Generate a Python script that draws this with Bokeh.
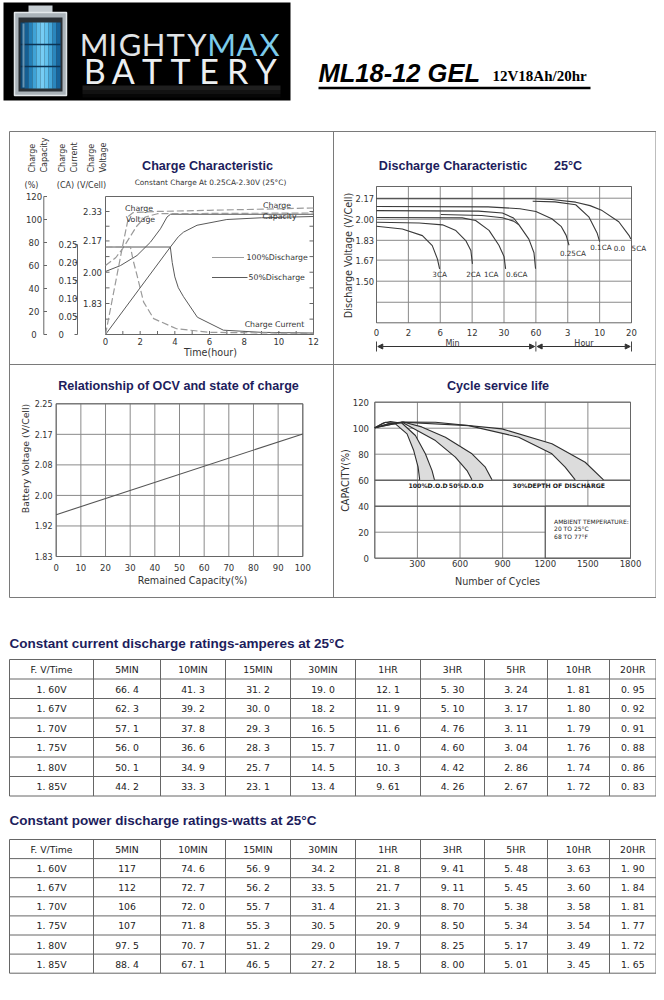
import numpy as np
from bokeh.plotting import figure
from bokeh.models import Range1d, Arrow, NormalHead
from bokeh.core.properties import value
from bokeh.embed import file_html
from bokeh.resources import INLINE

# ======================= DATA =======================
# ---- Charge characteristic (x = hours) ----
charge_hour_ticks = [0, 2, 4, 6, 8, 10, 12]
charge_capacity_ticks = [0, 20, 40, 60, 80, 100, 120]
charge_current_ticks = [0, 0.05, 0.10, 0.15, 0.20, 0.25]
charge_current_labels = ["0", "0.05", "0.10", "0.15", "0.20", "0.25"]
charge_voltage_ticks = [1.83, 2.00, 2.17, 2.33]
charge_voltage_labels = ["1.83", "2.00", "2.17", "2.33"]
charge_voltage_minor = [1.745, 1.83, 1.915, 2.00, 2.085, 2.17, 2.25, 2.33]

volt_solid_h = [0, 0.86, 1.82, 2.59, 3.17, 3.55, 3.75, 12]
volt_solid_v = [2.004, 2.036, 2.091, 2.163, 2.236, 2.300, 2.315, 2.315]
volt_dash_h = [0, 0.6, 1.0, 1.4, 1.8, 2.3, 3.0, 12]
volt_dash_v = [2.036, 2.08, 2.13, 2.19, 2.25, 2.30, 2.318, 2.322]
curr_solid_h = [0, 3.74, 3.85, 4.0, 4.2, 4.5, 5.3, 6.8, 9, 12]
curr_solid_a = [0.243, 0.243, 0.20, 0.16, 0.13, 0.105, 0.048, 0.012, 0.006, 0.004]
curr_dash_h = [0, 1.44, 1.6, 1.82, 2.2, 2.78, 4.1, 6, 12]
curr_dash_a = [0.243, 0.243, 0.205, 0.164, 0.09, 0.044, 0.016, 0.006, 0.003]
cap_solid_h = [0, 3.74, 4.2, 4.5, 5.28, 7, 9, 12]
cap_solid_p = [0, 76, 85, 89, 95, 100, 101.5, 102.6]
cap_dash_h = [0, 0.5, 1.0, 1.34, 1.6, 3, 6, 12]
cap_dash_p = [0, 39, 78, 103, 106, 107, 108, 110]

# ---- Discharge characteristic (x = position of time tick) ----
discharge_time_labels = ["0", "2", "6", "12", "30", "60", "3", "10", "20"]
discharge_volt_ticks = [2.17, 2.00, 1.83, 1.67, 1.50]
discharge_volt_labels = ["2.17", "2.00", "1.83", "1.67", "1.50"]
discharge_volt_grid = [2.17, 2.00, 1.83, 1.67, 1.50, 1.33]
dis_3ca_t = [0, 0.81, 1.44, 1.75, 1.91, 1.98]
dis_3ca_v = [1.944, 1.922, 1.868, 1.787, 1.68, 1.60]
dis_2ca_t = [0, 1.34, 2.07, 2.49, 2.80, 2.96, 3.01]
dis_2ca_v = [1.976, 1.97, 1.955, 1.909, 1.828, 1.748, 1.64]
dis_1ca_t = [0, 2.69, 3.11, 3.53, 3.84, 4.0, 4.05]
dis_1ca_v = [2.014, 2.011, 1.99, 1.91, 1.79, 1.70, 1.60]
dis_06a_t = [2.02, 3.3, 3.95, 4.3, 4.47]
dis_06a_v = [2.038, 2.03, 2.012, 1.985, 1.955]
dis_06ca_t = [0, 3.2, 3.95, 4.3, 4.47, 4.78, 4.94, 4.99]
dis_06ca_v = [2.07, 2.066, 2.05, 2.01, 1.955, 1.84, 1.73, 1.60]
dis_025ca_t = [0, 3.5, 4.5, 5.0, 5.5, 5.8, 5.95, 6.04]
dis_025ca_v = [2.103, 2.10, 2.085, 2.063, 2.004, 1.94, 1.87, 1.79]
dis_01ca_t = [4.9, 5.6, 6.25, 6.66, 6.92, 7.0]
dis_01ca_v = [2.145, 2.14, 2.117, 2.02, 1.89, 1.82]
dis_005ca_t = [0, 4.9, 5.5, 6.25, 6.7, 7.08, 7.6, 7.92, 7.98]
dis_005ca_v = [2.165, 2.165, 2.16, 2.138, 2.11, 2.07, 1.98, 1.87, 1.84]
discharge_curve_names = ["3CA", "2CA", "1CA", "0.6CA", "0.25CA", "0.1CA", "0.0", "5CA"]

# ---- OCV vs state of charge ----
ocv_capacity_ticks = [0, 10, 20, 30, 40, 50, 60, 70, 80, 90, 100]
ocv_volt_ticks = [1.83, 1.914, 1.998, 2.082, 2.166, 2.25]
ocv_volt_labels = ["1.83", "1.92", "2.00", "2.08", "2.17", "2.25"]
ocv_capacity = [0, 100]
ocv_voltage = [1.945, 2.167]

# ---- Cycle service life ----
cycle_ticks = [0, 300, 600, 900, 1200, 1500, 1800]
cycle_capacity_ticks = [0, 20, 40, 60, 80, 100, 120]
dod100_outer_n = [0, 60, 110, 192, 286, 356, 403, 420]
dod100_outer_c = [100.3, 104, 105.2, 103.8, 94.4, 80.3, 67.4, 60.3]
dod100_inner_n = [0, 75, 145, 227, 274, 305, 316]
dod100_inner_c = [100.3, 104.6, 103.3, 95.6, 82.8, 70, 60.3]
dod50_outer_n = [0, 120, 200, 330, 497, 684, 778, 825]
dod50_outer_c = [100.3, 104, 104.8, 101, 93.1, 80.3, 70, 60.3]
dod50_inner_n = [0, 100, 192, 427, 567, 649, 684]
dod50_inner_c = [100.3, 103.5, 104.6, 90.5, 77.7, 67.4, 60.3]
dod30_outer_n = [0, 200, 427, 895, 1247, 1481, 1610]
dod30_outer_c = [100.3, 104.8, 104.6, 99.5, 88, 73.8, 60.3]
dod30_inner_n = [0, 192, 661, 1013, 1247, 1340, 1411]
dod30_inner_c = [100.3, 104.6, 102, 93.1, 80.3, 70, 60.3]
dod_labels = ["100%D.O.D", "50%D.O.D", "30%DEPTH OF DISCHARGE"]
ambient_lines = ["AMBIENT TEMPERATURE:", "20 TO 25°C", "68 TO 77°F"]

# ---- Tables ----
table_header = ["F. V/Time", "5MIN", "10MIN", "15MIN", "30MIN", "1HR", "3HR", "5HR", "10HR", "20HR"]
final_voltages = ["1. 60V", "1. 67V", "1. 70V", "1. 75V", "1. 80V", "1. 85V"]
amps_160 = ["66. 4", "41. 3", "31. 2", "19. 0", "12. 1", "5. 30", "3. 24", "1. 81", "0. 95"]
amps_167 = ["62. 3", "39. 2", "30. 0", "18. 2", "11. 9", "5. 10", "3. 17", "1. 80", "0. 92"]
amps_170 = ["57. 1", "37. 8", "29. 3", "16. 5", "11. 6", "4. 76", "3. 11", "1. 79", "0. 91"]
amps_175 = ["56. 0", "36. 6", "28. 3", "15. 7", "11. 0", "4. 60", "3. 04", "1. 76", "0. 88"]
amps_180 = ["50. 1", "34. 9", "25. 7", "14. 5", "10. 3", "4. 42", "2. 86", "1. 74", "0. 86"]
amps_185 = ["44. 2", "33. 3", "23. 1", "13. 4", "9. 61", "4. 26", "2. 67", "1. 72", "0. 83"]
watts_160 = ["117", "74. 6", "56. 9", "34. 2", "21. 8", "9. 41", "5. 48", "3. 63", "1. 90"]
watts_167 = ["112", "72. 7", "56. 2", "33. 5", "21. 7", "9. 11", "5. 45", "3. 60", "1. 84"]
watts_170 = ["106", "72. 0", "55. 7", "31. 4", "21. 3", "8. 70", "5. 38", "3. 58", "1. 81"]
watts_175 = ["107", "71. 8", "55. 3", "30. 5", "20. 9", "8. 50", "5. 34", "3. 54", "1. 77"]
watts_180 = ["97. 5", "70. 7", "51. 2", "29. 0", "19. 7", "8. 25", "5. 17", "3. 49", "1. 72"]
watts_185 = ["88. 4", "67. 1", "46. 5", "27. 2", "18. 5", "8. 00", "5. 01", "3. 45", "1. 65"]

# ======================= LAYOUT / STYLE =======================
X0, X1, Y0, Y1 = 0, 656, 0, 984
NAVY = "#1d1d5c"
TXT = "#333333"
GRID = "#8a8a8a"
SANS = value("DejaVu Sans")
ARIAL = value("Liberation Sans")

p = figure(width=X1 - X0, height=Y1 - Y0, x_range=Range1d(X0, X1), y_range=Range1d(Y1, Y0),
           output_backend="svg", toolbar_location=None, min_border=0,
           x_axis_type=None, y_axis_type=None)
p.outline_line_color = None
p.background_fill_color = "white"
p.border_fill_color = "white"

xr, yr = {}, {}
def set_x(name, v1, p1, v2, p2):
    s = (v2 - v1) / (p2 - p1)
    xr[name] = Range1d(v1 + (X0 - p1) * s, v1 + (X1 - p1) * s)
def set_y(name, v1, p1, v2, p2):
    s = (v2 - v1) / (p2 - p1)
    yr[name] = Range1d(v1 + (Y1 - p1) * s, v1 + (Y0 - p1) * s)

set_x("ch_x", 0, 105, 12, 313)
set_y("ch_cap", 0, 334, 120, 196)
set_y("ch_v", 1.83, 303, 2.33, 211)
set_y("ch_i", 0, 334, 0.25, 244)
set_x("dc_x", 0, 376, 8, 631)
set_y("dc_v", 1.50, 280.7, 2.17, 197.7)
set_x("ocv_x", 0, 55.7, 100, 302.3)
set_y("ocv_y", 1.83, 556, 2.25, 403.3)
set_x("cy_x", 0, 374.3, 1800, 630)
set_y("cy_y", 0, 557.7, 120, 401.7)
p.extra_x_ranges = xr
p.extra_y_ranges = yr

def T(x, y, s, size=8, color=TXT, font=SANS, style="normal", align="center",
      baseline="middle", angle=0.0, xn="default", yn="default"):
    xs = list(x) if isinstance(x, (list, tuple)) else [x]
    ys = list(y) if isinstance(y, (list, tuple)) else [y]
    ss = list(s) if isinstance(s, (list, tuple)) else [s]
    n = max(len(xs), len(ys), len(ss))
    xs = xs * n if len(xs) == 1 else xs
    ys = ys * n if len(ys) == 1 else ys
    ss = ss * n if len(ss) == 1 else ss
    p.text(x=xs, y=ys, text=ss, text_font=font, text_font_size=f"{size}px",
           text_font_style=style, text_color=color, text_align=align,
           text_baseline=baseline, angle=angle, x_range_name=xn, y_range_name=yn)

def L(x, y, color="#555", width=1.0, dash="solid", xn="default", yn="default"):
    p.line(x=x, y=y, line_color=color, line_width=width, line_dash=dash,
           x_range_name=xn, y_range_name=yn)

def S(x0, y0, x1, y1, color=GRID, width=1.0, xn="default", yn="default"):
    n = max(len(v) if isinstance(v, (list, tuple)) else 1 for v in (x0, y0, x1, y1))
    f = lambda v: list(v) if isinstance(v, (list, tuple)) else [v] * n
    p.segment(x0=f(x0), y0=f(y0), x1=f(x1), y1=f(y1), line_color=color,
              line_width=width, x_range_name=xn, y_range_name=yn)

def box(l, r, t, b, color="#555", width=1.0, fill=None):
    p.quad(left=[l], right=[r], top=[t], bottom=[b], fill_color=fill,
           line_color=color, line_width=width)

# ======================= HEADER =======================
p.quad(left=[3], right=[290], top=[2], bottom=[100], fill_color="black", line_color=None)
p.quad(left=[28], right=[52], top=[5], bottom=[13], fill_color="#c5ccd1", line_color=None)
p.quad(left=[14], right=[66], top=[12], bottom=[95], fill_color="#aab3b9", line_color="#e3e8eb", line_width=1.5)
p.quad(left=[18], right=[62], top=[17], bottom=[91], fill_color="#2b3136", line_color=None)
stripe_colors = ["#0c4773", "#155f93", "#2580b8", "#3fa2d6", "#5dbdea", "#77cdf4",
                 "#62c2ee", "#45a7da", "#2a86bd", "#16639a"]
sx = [20 + 4 * i for i in range(10)]
p.quad(left=sx, right=[v + 4 for v in sx], top=[22] * 10, bottom=[88] * 10,
       fill_color=stripe_colors, line_color=None)
S([20, 20], [44, 66], [60, 60], [44, 66], color="#0b3353", width=1.5)
p.quad(left=[22], right=[24], top=[23], bottom=[87], fill_color="#bfe6f8", line_color=None, fill_alpha=0.5)

mm_letters = list("MIGHTYMAX")
mm_w = [1.25, 0.45, 1.1, 1.05, 0.95, 1.0, 1.25, 1.05, 1.0]
unit = 200 / sum(mm_w)
cx, acc = [], 80.0
for w in mm_w:
    cx.append(acc + w * unit / 2); acc += w * unit
mm_colors = ["#e1e4e6"] * 6 + ["#7ccbea"] * 3
p.text(x=cx, y=[43] * 9, text=mm_letters, text_font=value("Lato"), text_font_size="31px",
       text_color=mm_colors, text_align="center", text_baseline="middle")
bt_letters = list("BATTERY")
bx = [80 + 200 / 7 * (i + 0.5) for i in range(7)]
p.text(x=bx, y=[70] * 7, text=bt_letters, text_font=value("Lato"), text_font_size="34px",
       text_color="#eceff1", text_align="center", text_baseline="middle")
p.quad(left=[82, 82, 82], right=[280, 280, 280], top=[85, 89.5, 93.5], bottom=[89.5, 93.5, 97],
       fill_color="#5a5a5a", fill_alpha=[0.35, 0.2, 0.08], line_color=None)

T(318, 72, "ML18-12 GEL", size=25.5, color="black", font=ARIAL, style="bold italic",
  align="left", baseline="middle")
T(492, 75, "12V18Ah/20hr", size=15, color="black", font=value("Liberation Serif"),
  style="bold", align="left", baseline="middle")
S(318, 87.5, 590, 87.5, color="black", width=2.5)

# ======================= CHART FRAME =======================
box(9, 655.5, 131, 597, color="#7a7a7a")
S(333, 131, 333, 597, color="#7a7a7a")
S(9, 364, 655.5, 364, color="#7a7a7a")

# ======================= CHARGE CHARACTERISTIC =======================
T(207, 165, "Charge Characteristic", size=12.6, color=NAVY, font=ARIAL, style="bold")
T(210, 182, "Constant Charge At 0.25CA-2.30V (25°C)", size=7.4)
for xx, s in [(32, "Charge"), (43.5, "Capacity"), (62, "Charge"), (73.5, "Current"),
              (90.5, "Charge"), (103, "Voltage")]:
    T(xx, 172, s, size=8, align="left", angle=np.pi / 2)
T([31, 65, 91], 185, ["(%)", "(CA)", "(V/Cell)"], size=8)

box(105, 313, 196, 334, color="#666")
S(43.3, 0, 43.3, 120, color="#666", yn="ch_cap")
S(43.3, charge_capacity_ticks, 46.5, charge_capacity_ticks, color="#666", yn="ch_cap")
T(33.5, charge_capacity_ticks, [str(v) for v in charge_capacity_ticks], size=8.5, yn="ch_cap")
S(77, 0, 77, 0.25, color="#666", yn="ch_i")
S(74, charge_current_ticks, 77, charge_current_ticks, color="#666", yn="ch_i")
T(58, charge_current_ticks, charge_current_labels, size=8.5, align="left", yn="ch_i")
T(101.5, charge_voltage_ticks, charge_voltage_labels, size=8.5, align="right", yn="ch_v")
S(105, charge_voltage_minor, 109, charge_voltage_minor, color="#666", yn="ch_v")
S(313, charge_voltage_minor, 309, charge_voltage_minor, color="#666", yn="ch_v")
S(list(range(0, 13)), 334, list(range(0, 13)), 330.5, color="#666", xn="ch_x")
T(charge_hour_ticks, 340.5, [str(v) for v in charge_hour_ticks], size=8.5, xn="ch_x")
T(210, 352, "Time(hour)", size=9.6)

DASH = "7 3"
LIGHT, DARK = "#9a9a9a", "#5a5a5a"
L(volt_solid_h, volt_solid_v, color=DARK, xn="ch_x", yn="ch_v")
L(volt_dash_h, volt_dash_v, color=LIGHT, dash=DASH, width=1.2, xn="ch_x", yn="ch_v")
L(curr_solid_h, curr_solid_a, color=DARK, xn="ch_x", yn="ch_i")
L(curr_dash_h, curr_dash_a, color=LIGHT, dash=DASH, width=1.2, xn="ch_x", yn="ch_i")
L(cap_solid_h, cap_solid_p, color=DARK, xn="ch_x", yn="ch_cap")
L(cap_dash_h, cap_dash_p, color=LIGHT, dash=DASH, width=1.2, xn="ch_x", yn="ch_cap")

T([138.5, 140], [207.5, 218.5], ["Charge", "Voltage"], size=7.8)
T([276.5, 279], [205, 215.5], ["Charge", "Capacity"], size=7.8)
S(211.5, 257, 243.5, 257, color=LIGHT)
S(211.5, 277, 247, 277, color=DARK)
T(246, 257, "100%Discharge", size=7.8, align="left")
T(248, 277, "50%Discharge", size=7.8, align="left")
T(274, 323.5, "Charge Current", size=7.8)

# ======================= DISCHARGE CHARACTERISTIC =======================
T(452.5, 165, "Discharge Characteristic", size=12.6, color=NAVY, font=ARIAL, style="bold")
T(567.5, 165, "25°C", size=12.6, color=NAVY, font=ARIAL, style="bold")
dc_idx = list(range(len(discharge_time_labels)))
S(dc_idx, 186, dc_idx, 322.3, xn="dc_x")
S(376, discharge_volt_grid, 631, discharge_volt_grid, yn="dc_v")
box(376, 631, 186, 322.3, color="#666")
T(373.5, discharge_volt_ticks, discharge_volt_labels, size=8.3, align="right", yn="dc_v")
T(dc_idx, 332, discharge_time_labels, size=8.5, xn="dc_x")
T(348, 255, "Discharge Voltage (V/Cell)", size=9.6, angle=np.pi / 2)
for tt, vv in [(dis_3ca_t, dis_3ca_v), (dis_2ca_t, dis_2ca_v), (dis_1ca_t, dis_1ca_v),
               (dis_06a_t, dis_06a_v), (dis_06ca_t, dis_06ca_v), (dis_025ca_t, dis_025ca_v),
               (dis_01ca_t, dis_01ca_v), (dis_005ca_t, dis_005ca_v)]:
    L(tt, vv, color="#3a3a3a", width=1.1, xn="dc_x", yn="dc_v")
lab_x = [1.98, 3.04, 3.6, 4.4, 6.16, 7.04, 7.62, 8.23]
lab_v = [1.554, 1.554, 1.554, 1.554, 1.721, 1.775, 1.767, 1.762]
T(lab_x, lab_v, discharge_curve_names, size=7.2, xn="dc_x", yn="dc_v")
S([0, 5, 8], 341, [0, 5, 8], 351, color="#444", xn="dc_x")
for a, b in [(0, 5), (5, 8)]:
    p.add_layout(Arrow(start=NormalHead(size=5, fill_color="#333", line_color="#333"),
                       end=NormalHead(size=5, fill_color="#333", line_color="#333"),
                       x_start=a + 0.04, y_start=346, x_end=b - 0.04, y_end=346,
                       x_range_name="dc_x", line_color="#333", line_width=1))
p.quad(left=[441], right=[463], top=[338], bottom=[348], fill_color="white", line_color=None)
p.quad(left=[571], right=[596], top=[338], bottom=[348], fill_color="white", line_color=None)
T([452, 583.5], 343, ["Min", "Hour"], size=8)

# ======================= OCV =======================
T(178, 385, "Relationship of OCV and state of charge", size=12.6, color=NAVY, font=ARIAL, style="bold")
S(ocv_capacity_ticks, 1.83, ocv_capacity_ticks, 2.25, xn="ocv_x", yn="ocv_y")
S(0, ocv_volt_ticks, 100, ocv_volt_ticks, xn="ocv_x", yn="ocv_y")
box(55.7, 302.3, 403.3, 556, color="#666")
L(ocv_capacity, ocv_voltage, color="#555", width=1.1, xn="ocv_x", yn="ocv_y")
T(52, ocv_volt_ticks, ocv_volt_labels, size=8, align="right", yn="ocv_y")
T(ocv_capacity_ticks, 567, [str(v) for v in ocv_capacity_ticks], size=8.5, xn="ocv_x")
T(192, 579.5, "Remained Capacity(%)", size=9.6)
T(25, 458, "Battery Voltage (V/Cell)", size=9.3, angle=np.pi / 2)

# ======================= CYCLE LIFE =======================
T(497.5, 385, "Cycle service life", size=12.6, color=NAVY, font=ARIAL, style="bold")
S(cycle_ticks, 0, cycle_ticks, 120, xn="cy_x", yn="cy_y")
S(0, cycle_capacity_ticks, 1800, cycle_capacity_ticks, xn="cy_x", yn="cy_y")
S(0, [40, 60], 1800, [40, 60], color="#444", xn="cy_x", yn="cy_y")
p.quad(left=[1200], right=[1800], top=[40], bottom=[0], fill_color="white", line_color="#444",
       x_range_name="cy_x", y_range_name="cy_y")
box(374.3, 630, 401.7, 557.7, color="#666")
for on, oc, inn, ic in [(dod100_outer_n, dod100_outer_c, dod100_inner_n, dod100_inner_c),
                        (dod50_outer_n, dod50_outer_c, dod50_inner_n, dod50_inner_c),
                        (dod30_outer_n, dod30_outer_c, dod30_inner_n, dod30_inner_c)]:
    p.patch(x=on + inn[::-1], y=oc + ic[::-1], fill_color="#dcdcdc", line_color=None,
            x_range_name="cy_x", y_range_name="cy_y")
    L(on, oc, color="#2e2e2e", width=1.1, xn="cy_x", yn="cy_y")
    L(inn, ic, color="#2e2e2e", width=1.1, xn="cy_x", yn="cy_y")
T([375, 644, 1295], 56, dod_labels, size=6.2, color="#222", style="bold", xn="cy_x", yn="cy_y")
T(1262, [28.5, 22.6, 16.9], ambient_lines, size=6, color="#222", align="left", xn="cy_x", yn="cy_y")
T(368.5, cycle_capacity_ticks, [str(v) for v in cycle_capacity_ticks], size=8.5, align="right", yn="cy_y")
T(cycle_ticks[1:], 563, [str(v) for v in cycle_ticks[1:]], size=8.5, xn="cy_x")
T(497, 580.5, "Number of Cycles", size=9.6)
T(345, 480, "CAPACITY(%)", size=9.6, angle=np.pi / 2)

# ======================= TABLES =======================
col_lines = [9, 93, 160, 225, 290, 355, 420, 484, 547, 609, 655.5]
col_centers = [(a + b) / 2 for a, b in zip(col_lines[:-1], col_lines[1:])]

def draw_table(title, title_y, top, rh, rows):
    T(9, title_y, title, size=13.5, color=NAVY, font=ARIAL, style="bold", align="left")
    n = len(rows) + 1
    ys = [top + i * rh for i in range(n + 1)]
    S(col_lines[0], ys, col_lines[-1], ys, color="#666")
    S(col_lines, top, col_lines, ys[-1], color="#666")
    T(col_centers, top + rh / 2 + 0.5, table_header, size=9.3, color="#222")
    for i, (fvv, vals) in enumerate(rows):
        yc = top + rh * (i + 1.5) + 0.5
        T(col_centers, yc, [fvv] + vals, size=9.3, color="#222")

draw_table("Constant current discharge ratings-amperes at 25°C", 643, 659, 19.5,
           list(zip(final_voltages, [amps_160, amps_167, amps_170, amps_175, amps_180, amps_185])))
draw_table("Constant power discharge ratings-watts at 25°C", 820, 839, 19.1,
           list(zip(final_voltages, [watts_160, watts_167, watts_170, watts_175, watts_180, watts_185])))

open("out.html", "w").write(file_html(p, INLINE))
